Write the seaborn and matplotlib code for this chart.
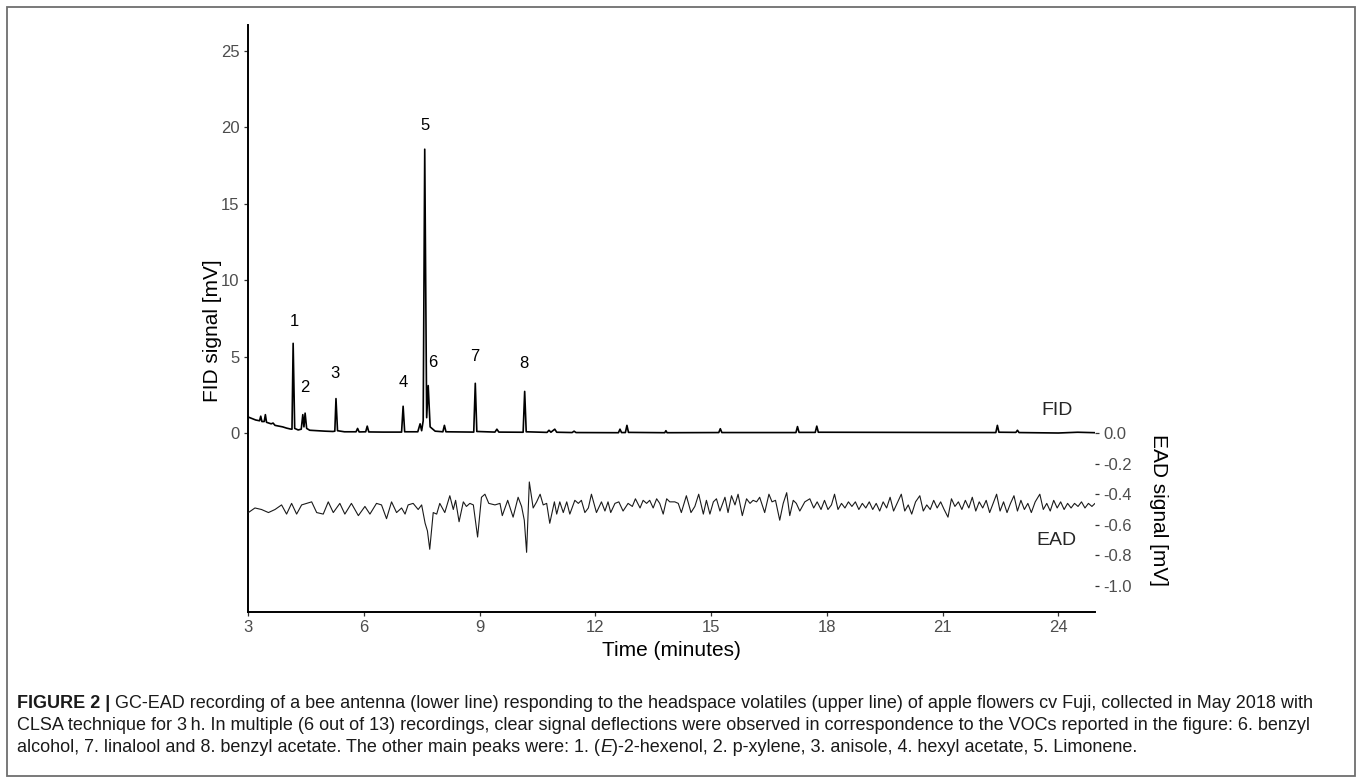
import matplotlib
matplotlib.use("Agg")
import matplotlib.pyplot as plt
from matplotlib import font_manager
from matplotlib.patches import Rectangle
from matplotlib.ticker import FormatStrFormatter
import pandas as pd
import seaborn as sns

# FID trace (time in minutes, signal in mV)
fid_time = [3.00, 3.10, 3.20, 3.30, 3.33, 3.36, 3.42, 3.45, 3.48, 3.60, 3.65, 3.70,
            3.80, 3.90, 4.00, 4.10, 4.14, 4.17, 4.21, 4.30, 4.38, 4.42, 4.45, 4.48,
            4.52, 4.60, 4.80, 5.00, 5.20, 5.25, 5.28, 5.32, 5.50, 5.80, 5.84, 5.88,
            6.05, 6.09, 6.13, 6.50, 6.98, 7.02, 7.06, 7.40, 7.46, 7.50, 7.54, 7.58,
            7.63, 7.67, 7.72, 7.85, 8.05, 8.09, 8.13, 8.85, 8.89, 8.93, 9.40, 9.45,
            9.50, 10.13, 10.17, 10.21, 10.75, 10.80, 10.85, 10.95, 11.00, 11.40, 11.45,
            11.50, 12.60, 12.64, 12.68, 12.78, 12.82, 12.86, 13.80, 13.83, 13.86,
            15.20, 15.24, 15.28, 17.20, 17.24, 17.28, 17.70, 17.74, 17.78, 22.38,
            22.42, 22.46, 22.90, 22.94, 22.98, 24.00, 24.50, 24.95]
fid_mv = [1.05, 0.95, 0.85, 0.80, 1.10, 0.75, 0.75, 1.20, 0.70, 0.60, 0.65, 0.50,
          0.45, 0.40, 0.32, 0.26, 0.25, 5.86, 0.30, 0.20, 0.25, 1.20, 0.40, 1.30,
          0.30, 0.18, 0.15, 0.12, 0.10, 0.12, 2.25, 0.15, 0.08, 0.08, 0.30, 0.07,
          0.08, 0.45, 0.07, 0.06, 0.06, 1.75, 0.08, 0.08, 0.60, 0.15, 0.80, 18.55,
          1.00, 3.10, 0.40, 0.12, 0.08, 0.50, 0.08, 0.06, 3.25, 0.10, 0.06, 0.25,
          0.06, 0.05, 2.72, 0.08, 0.04, 0.18, 0.05, 0.25, 0.05, 0.03, 0.12,
          0.03, 0.02, 0.25, 0.03, 0.03, 0.50, 0.04, 0.02, 0.15, 0.02,
          0.03, 0.28, 0.03, 0.03, 0.42, 0.04, 0.04, 0.45, 0.05, 0.03,
          0.50, 0.05, 0.04, 0.18, 0.03, 0.00, 0.05, 0.02]

# EAD trace (time in minutes, signal in mV)
ead_time = [3.01, 3.18, 3.35, 3.53, 3.70, 3.87, 4.00, 4.13, 4.26, 4.39, 4.52, 4.65,
            4.78, 4.95, 5.08, 5.21, 5.38, 5.51, 5.68, 5.86, 6.03, 6.16, 6.33, 6.46,
            6.59, 6.72, 6.85, 6.98, 7.07, 7.15, 7.28, 7.41, 7.50, 7.59, 7.65, 7.71,
            7.80, 7.89, 7.97, 8.10, 8.23, 8.32, 8.38, 8.47, 8.58, 8.66, 8.75, 8.84,
            8.95, 9.05, 9.14, 9.24, 9.40, 9.53, 9.59, 9.73, 9.87, 10.00, 10.09, 10.16,
            10.22, 10.29, 10.39, 10.48, 10.57, 10.65, 10.74, 10.82, 10.94, 11.00,
            11.08, 11.17, 11.26, 11.34, 11.47, 11.56, 11.64, 11.73, 11.82, 11.90,
            12.03, 12.16, 12.25, 12.33, 12.40, 12.51, 12.61, 12.72, 12.85, 12.96,
            13.04, 13.16, 13.24, 13.33, 13.41, 13.50, 13.59, 13.67, 13.76, 13.85,
            13.93, 14.06, 14.15, 14.23, 14.36, 14.48, 14.58, 14.68, 14.80, 14.88,
            14.97, 15.06, 15.14, 15.23, 15.36, 15.44, 15.53, 15.62, 15.70, 15.81,
            15.92, 16.01, 16.09, 16.18, 16.26, 16.39, 16.50, 16.58, 16.67, 16.78,
            16.87, 16.96, 17.04, 17.13, 17.21, 17.30, 17.43, 17.56, 17.66, 17.75,
            17.85, 17.94, 18.03, 18.12, 18.20, 18.29, 18.38, 18.47, 18.56, 18.65,
            18.74, 18.83, 18.92, 19.01, 19.10, 19.19, 19.28, 19.37, 19.46, 19.55,
            19.64, 19.73, 19.82, 19.93, 20.02, 20.11, 20.20, 20.30, 20.41, 20.50,
            20.59, 20.68, 20.77, 20.86, 20.95, 21.04, 21.14, 21.23, 21.32, 21.41,
            21.50, 21.59, 21.68, 21.77, 21.86, 21.95, 22.04, 22.13, 22.22, 22.31,
            22.40, 22.49, 22.58, 22.67, 22.76, 22.85, 22.94, 23.03, 23.12, 23.21,
            23.30, 23.40, 23.52, 23.61, 23.70, 23.79, 23.88, 23.97, 24.06, 24.15,
            24.24, 24.33, 24.42, 24.51, 24.60, 24.69, 24.78, 24.87, 24.95]
ead_mv = [-0.52, -0.49, -0.50, -0.52, -0.50, -0.47, -0.53, -0.46, -0.53, -0.47, -0.46, -0.45,
          -0.52, -0.53, -0.45, -0.52, -0.46, -0.53, -0.46, -0.54, -0.48, -0.53, -0.46, -0.47,
          -0.56, -0.45, -0.52, -0.49, -0.53, -0.47, -0.46, -0.50, -0.47, -0.59, -0.64, -0.76,
          -0.52, -0.53, -0.46, -0.52, -0.41, -0.50, -0.44, -0.58, -0.45, -0.48, -0.46, -0.47,
          -0.68, -0.42, -0.40, -0.46, -0.47, -0.46, -0.54, -0.44, -0.55, -0.42, -0.48, -0.57,
          -0.78, -0.32, -0.49, -0.45, -0.40, -0.47, -0.46, -0.59, -0.45, -0.53,
          -0.45, -0.52, -0.45, -0.53, -0.44, -0.46, -0.44, -0.52, -0.49, -0.40,
          -0.52, -0.45, -0.51, -0.45, -0.52, -0.46, -0.45, -0.51, -0.46, -0.48,
          -0.43, -0.49, -0.44, -0.46, -0.44, -0.49, -0.43, -0.46, -0.53, -0.43,
          -0.45, -0.45, -0.46, -0.52, -0.41, -0.52, -0.48, -0.40, -0.53, -0.44,
          -0.53, -0.45, -0.43, -0.51, -0.42, -0.52, -0.41, -0.47, -0.40, -0.54,
          -0.43, -0.46, -0.44, -0.45, -0.42, -0.52, -0.40, -0.45, -0.44, -0.57,
          -0.46, -0.39, -0.54, -0.44, -0.46, -0.51, -0.45, -0.43, -0.49, -0.45,
          -0.50, -0.44, -0.50, -0.47, -0.40, -0.50, -0.46, -0.49, -0.45, -0.48,
          -0.45, -0.50, -0.46, -0.49, -0.45, -0.50, -0.46, -0.51, -0.45, -0.49,
          -0.42, -0.51, -0.46, -0.40, -0.51, -0.47, -0.53, -0.45, -0.41, -0.51,
          -0.47, -0.50, -0.44, -0.49, -0.45, -0.50, -0.55, -0.43, -0.48, -0.45,
          -0.50, -0.44, -0.49, -0.42, -0.51, -0.45, -0.49, -0.44, -0.52, -0.46,
          -0.40, -0.51, -0.45, -0.52, -0.46, -0.41, -0.51, -0.44, -0.50, -0.46,
          -0.52, -0.45, -0.40, -0.50, -0.46, -0.51, -0.44, -0.49, -0.45, -0.50,
          -0.46, -0.49, -0.46, -0.48, -0.45, -0.49, -0.46, -0.48, -0.46]

# Peak numbers and where they sit (time, FID mV)
peak_labels = ["1", "2", "3", "4", "5", "6", "7", "8"]
peak_label_time = [4.20, 4.47, 5.25, 7.03, 7.59, 7.78, 8.88, 10.16]
peak_label_mv = [7.27, 2.99, 3.86, 3.31, 20.10, 4.62, 4.99, 4.55]

time_ticks = [3, 6, 9, 12, 15, 18, 21, 24]
fid_ticks = [0, 5, 10, 15, 20, 25]
ead_ticks = [0.0, -0.2, -0.4, -0.6, -0.8, -1.0]

caption_lines = [
    [("FIGURE 2 |", "bold", "normal"),
     (" GC-EAD recording of a bee antenna (lower line) responding to the headspace volatiles "
      "(upper line) of apple flowers cv Fuji, collected in May 2018 with", "normal", "normal")],
    [("CLSA technique for 3\u2009h. In multiple (6 out of 13) recordings, clear signal deflections "
      "were observed in correspondence to the VOCs reported in the figure: 6. benzyl", "normal", "normal")],
    [("alcohol, 7. linalool and 8. benzyl acetate. The other main peaks were: 1. (", "normal", "normal"),
     ("E", "normal", "italic"),
     (")-2-hexenol, 2. p-xylene, 3. anisole, 4. hexyl acetate, 5. Limonene.", "normal", "normal")],
]

fid = pd.DataFrame({"time": fid_time, "signal": fid_mv})
ead = pd.DataFrame({"time": ead_time, "signal": ead_mv})

sns.set_theme(style="ticks")
plt.rcParams["font.family"] = ["Liberation Sans", "DejaVu Sans"]
plt.rcParams["axes.unicode_minus"] = False

W, H = 1357, 781
fig = plt.figure(figsize=(W / 100, H / 100), dpi=100)
ax = fig.add_axes([248 / W, 1 - 612 / H, 847 / W, 587 / H])
ax2 = ax.twinx()

sns.lineplot(data=fid, x="time", y="signal", ax=ax, color="black", linewidth=1.2,
             estimator=None, sort=False)
sns.lineplot(data=ead, x="time", y="signal", ax=ax2, color="#1a1a1a", linewidth=0.8,
             estimator=None, sort=False)

ax.set_xlim(3, 24.95)
ax.set_ylim(-11.70, 26.67)
ax2.set_ylim(-1.170, 2.667)

ax.set_xticks(time_ticks)
ax.set_yticks(fid_ticks)
ax2.set_yticks(ead_ticks)
ax2.yaxis.set_major_formatter(FormatStrFormatter("%.1f"))

for spine in ["top", "right"]:
    ax.spines[spine].set_visible(False)
for spine in ax2.spines.values():
    spine.set_visible(False)
for spine in ["left", "bottom"]:
    ax.spines[spine].set_color("black")
    ax.spines[spine].set_linewidth(1.4)

ax.tick_params(axis="both", direction="out", length=3, width=0.9, color="#333333",
               labelsize=12, labelcolor="#4d4d4d", pad=3)
ax2.tick_params(axis="y", direction="out", length=3, width=0.9, color="#333333",
                labelsize=12, labelcolor="#4d4d4d", pad=3)

ax.set_xlabel("Time (minutes)", fontsize=15, color="black")
ax.xaxis.set_label_coords(0.5, -0.066)
ax.xaxis.label.set_va("center")
ax.set_ylabel("FID signal [mV]", fontsize=15, color="black", va="center")
ax.yaxis.set_label_coords(-0.0425, 0.479)
ax2.set_ylabel("EAD signal [mV]", fontsize=15, color="black", rotation=270, va="center")
ax2.yaxis.set_label_coords(1.0744, 0.174)

for lab, t, v in zip(peak_labels, peak_label_time, peak_label_mv):
    ax.text(t, v, lab, fontsize=12, color="black", ha="center", va="center")

ax.text(23.96, 1.44, "FID", fontsize=14, ha="center", va="center")
ax.text(23.96, -7.0, "EAD", fontsize=14, ha="center", va="center")

# figure frame
fig.patches.append(Rectangle((7 / W, 1 - 776 / H), 1348 / W, 769 / H,
                             transform=fig.transFigure, fill=False,
                             edgecolor="#6e6e6e", linewidth=1.3))

# caption
names = {f.name for f in font_manager.fontManager.ttflist}
cap_family = ["Liberation Sans Narrow"] if "Liberation Sans Narrow" in names else ["Liberation Sans"]
cap_family = cap_family + ["DejaVu Sans"]
renderer = fig.canvas.get_renderer()


def draw_line(parts, x_px, base_px, size):
    x = x_px / W
    for txt, weight, style in parts:
        t = fig.text(x, 1 - base_px / H, txt, fontsize=size, fontweight=weight,
                     fontstyle=style, family=cap_family, ha="left", va="baseline",
                     color="#1a1a1a")
        x += t.get_window_extent(renderer).width / W


probe = fig.text(0, 0, "".join(p[0] for p in caption_lines[0]), fontsize=10,
                 family=cap_family)
probe_w = probe.get_window_extent(renderer).width
probe.remove()
cap_size = 10 * 1300 / probe_w

for parts, base in zip(caption_lines, [708, 730, 752]):
    draw_line(parts, 17, base, cap_size)

fig.savefig("out.png", dpi=100)
